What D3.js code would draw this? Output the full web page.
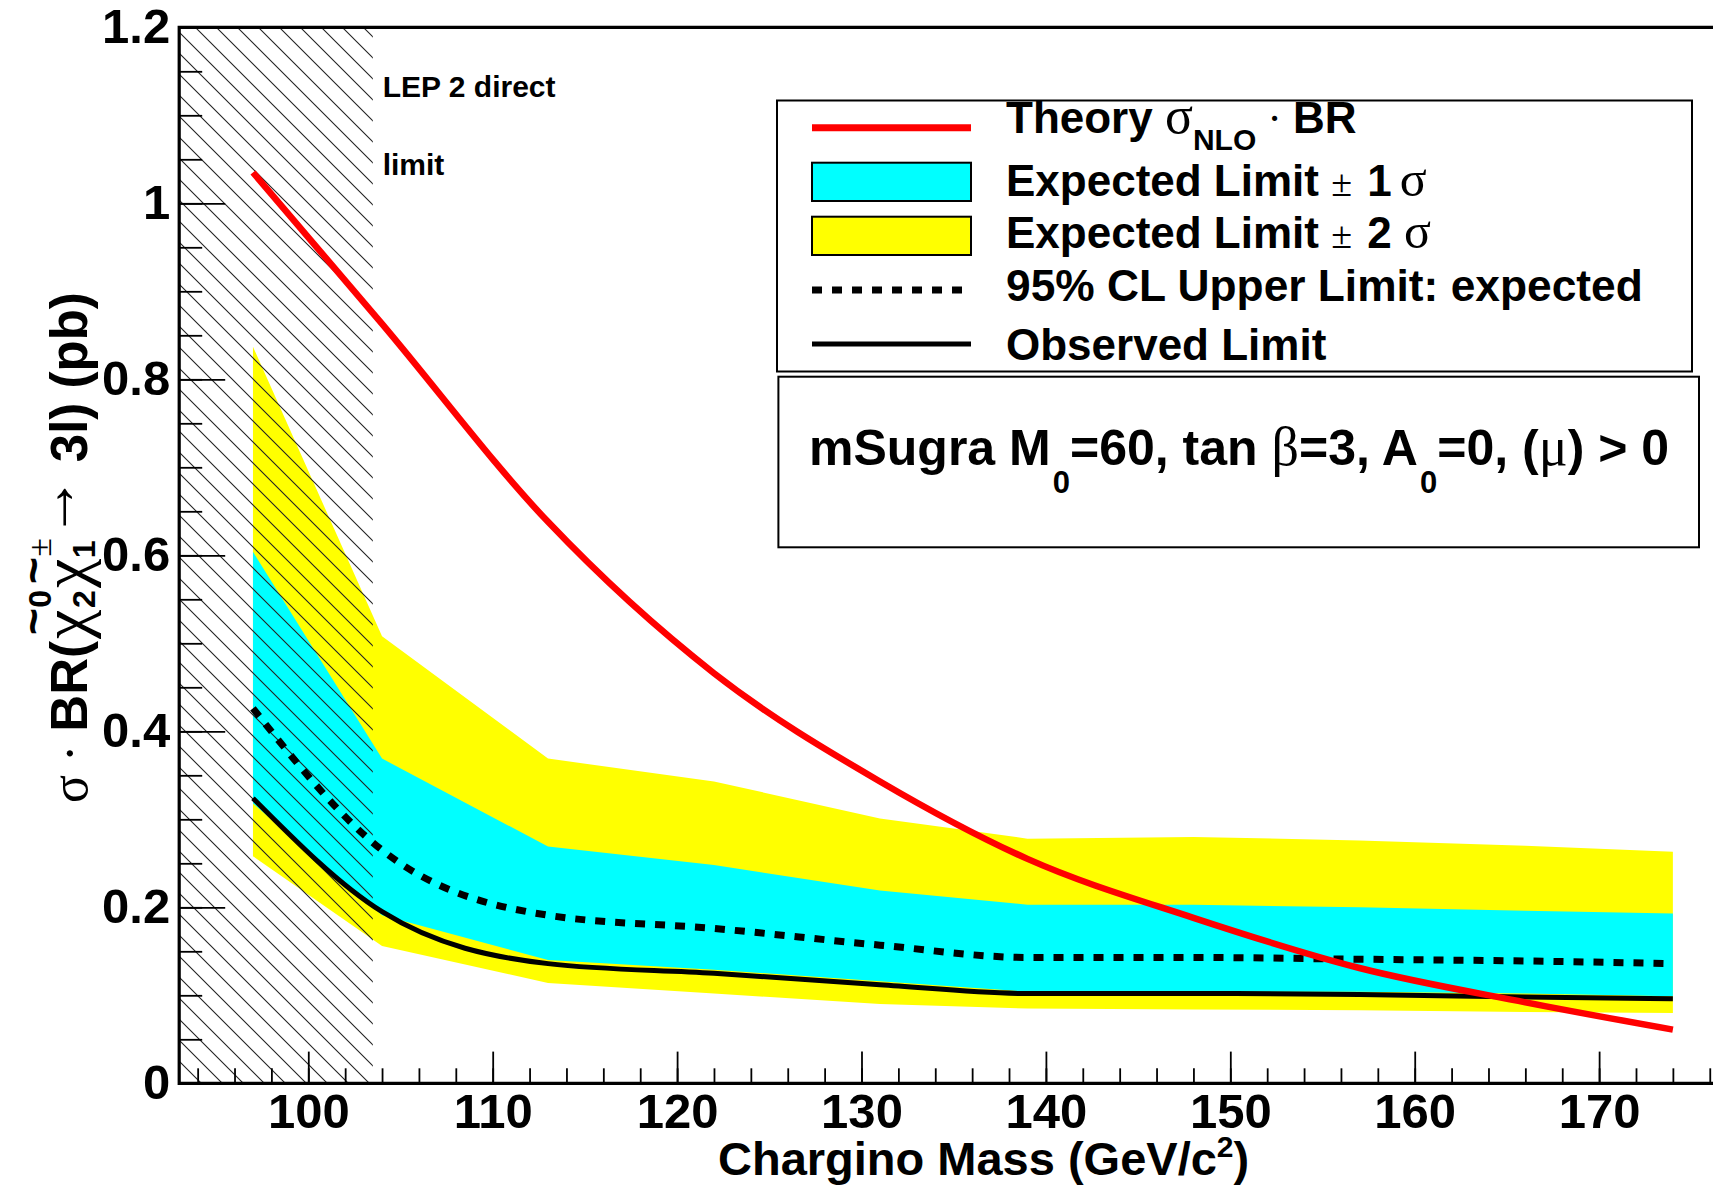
<!DOCTYPE html>
<html>
<head>
<meta charset="utf-8">
<script src="https://cdn.jsdelivr.net/npm/d3@7"></script>
<style>
  body { margin: 0; background: #fff; }
  svg { display: block; }
</style>
</head>
<body>
<div id="chart"></div>
<script>
// Valores (límites al 95% CL, mSugra)
const masses       = [97, 104, 113, 122, 131, 139, 148, 157, 166, 174];
const theory       = [1.035, 0.863, 0.638, 0.466, 0.343, 0.255, 0.188, 0.131, 0.092, 0.061];
const expected     = [0.426, 0.265, 0.191, 0.176, 0.157, 0.143, 0.143, 0.141, 0.139, 0.136];
const observed     = [0.324, 0.195, 0.136, 0.125, 0.112, 0.102, 0.102, 0.101, 0.098, 0.096];
const oneSigmaLow  = [0.318, 0.191, 0.140, 0.129, 0.116, 0.104, 0.104, 0.104, 0.102, 0.099];
const oneSigmaHigh = [0.604, 0.369, 0.269, 0.248, 0.219, 0.203, 0.203, 0.200, 0.196, 0.193];
const twoSigmaLow  = [0.258, 0.156, 0.114, 0.102, 0.090, 0.085, 0.084, 0.083, 0.081, 0.080];
const twoSigmaHigh = [0.837, 0.508, 0.369, 0.343, 0.301, 0.278, 0.280, 0.276, 0.270, 0.263];
const lepLimit = 103.5;
const xTickValues = [100, 110, 120, 130, 140, 150, 160, 170];
const yTickValues = [0, 0.2, 0.4, 0.6, 0.8, 1, 1.2];

const width = 1713, height = 1186;
const sans = "'Liberation Sans', Arial, Helvetica, sans-serif";
const serif = "'Liberation Serif', 'DejaVu Serif', serif";

const svg = d3.select('#chart').append('svg')
  .attr('width', width)
  .attr('height', height);

// Escalas (el marco se sale por la derecha, como en la figura)
const x = d3.scaleLinear().domain([93, 177]).range([179.2, 1728.2]);
const y = d3.scaleLinear().domain([0, 1.2]).range([1083.3, 27.3]);

const rows = masses.map((m, i) => ({
  m, th: theory[i], exp: expected[i], obs: observed[i],
  lo1: oneSigmaLow[i], hi1: oneSigmaHigh[i], lo2: twoSigmaLow[i], hi2: twoSigmaHigh[i]
}));

// Patrón rayado para la región excluida por LEP
const defs = svg.append('defs');
const pat = defs.append('pattern')
  .attr('id', 'hatch')
  .attr('patternUnits', 'userSpaceOnUse')
  .attr('width', 21).attr('height', 21);
pat.append('path')
  .attr('d', 'M0,0 L21,21 M-2,19 L2,23 M19,-2 L23,2')
  .attr('stroke', '#222')
  .attr('stroke-width', 1.1);

// Bandas ±2σ y ±1σ
const band = (lo, hi) => d3.area()
  .x(d => x(d.m))
  .y0(d => y(d[lo]))
  .y1(d => y(d[hi]));

svg.append('path').datum(rows)
  .attr('fill', '#ffff00')
  .attr('d', band('lo2', 'hi2'));
svg.append('path').datum(rows)
  .attr('fill', '#00ffff')
  .attr('d', band('lo1', 'hi1'));

// Región rayada
svg.append('rect')
  .attr('x', x(93))
  .attr('y', y(1.2))
  .attr('width', x(lepLimit) - x(93))
  .attr('height', y(0) - y(1.2))
  .attr('fill', 'url(#hatch)');

svg.append('text')
  .attr('x', 382.7).attr('y', 96.7)
  .attr('font-family', sans).attr('font-weight', 'bold').attr('font-size', 30)
  .text('LEP 2 direct');
svg.append('text')
  .attr('x', 382.7).attr('y', 175)
  .attr('font-family', sans).attr('font-weight', 'bold').attr('font-size', 30)
  .text('limit');

// Curvas
const curve = key => d3.line()
  .x(d => x(d.m))
  .y(d => y(d[key]))
  .curve(d3.curveMonotoneX);

svg.append('path').datum(rows)
  .attr('fill', 'none').attr('stroke', '#000')
  .attr('stroke-width', 7).attr('stroke-dasharray', '10 10')
  .attr('d', curve('exp'));
svg.append('path').datum(rows)
  .attr('fill', 'none').attr('stroke', '#000')
  .attr('stroke-width', 5)
  .attr('d', curve('obs'));
svg.append('path').datum(rows)
  .attr('fill', 'none').attr('stroke', '#ff0000')
  .attr('stroke-width', 6.5)
  .attr('d', curve('th'));

// Ejes
const yMajor = svg.append('g')
  .attr('transform', `translate(${x(93)},0)`)
  .call(d3.axisLeft(y).tickValues(yTickValues).tickSize(-46).tickPadding(9)
    .tickFormat(d => d === 0 ? '0' : d3.format('~g')(d)));
const yMinor = svg.append('g')
  .attr('transform', `translate(${x(93)},0)`)
  .call(d3.axisLeft(y).tickValues(d3.range(0, 1.2001, 0.05)).tickSize(-23).tickFormat(''));
const xMajor = svg.append('g')
  .attr('transform', `translate(0,${y(0)})`)
  .call(d3.axisBottom(x).tickValues(xTickValues).tickSize(-31.7).tickPadding(10));
const xMinor = svg.append('g')
  .attr('transform', `translate(0,${y(0)})`)
  .call(d3.axisBottom(x).tickValues(d3.range(94, 177, 2)).tickSize(-15).tickFormat(''));

[yMajor, yMinor, xMajor, xMinor].forEach(g => {
  g.select('.domain').remove();
  g.selectAll('.tick line').attr('stroke', '#000').attr('stroke-width', 1.8);
  g.selectAll('.tick text')
    .attr('font-family', sans).attr('font-weight', 'bold').attr('font-size', 49)
    .attr('fill', '#000');
});

// Marco: eje izquierdo, inferior y superior
svg.append('path')
  .attr('d', `M${x(177)},${y(1.2)} H${x(93)} V${y(0)} H${x(177)}`)
  .attr('fill', 'none').attr('stroke', '#000').attr('stroke-width', 3.2);

// Texto compuesto por trozos medidos
function richText(g, x0, y0, parts) {
  let cx = x0;
  parts.forEach(p => {
    const t = g.append('text')
      .attr('x', cx + (p.dx || 0))
      .attr('y', y0 + (p.dy || 0))
      .attr('font-family', p.serif ? serif : sans)
      .attr('font-weight', p.serif ? 'normal' : 'bold')
      .attr('font-size', p.size)
      .text(p.text);
    if (!p.overlay) cx += t.node().getComputedTextLength() + (p.dx || 0);
  });
  return cx;
}

// Títulos de ejes
richText(svg, 718, 1175, [
  { text: 'Chargino Mass (GeV/c', size: 47 },
  { text: '2', size: 30, dy: -18 },
  { text: ')', size: 47 }
]);

const yl = svg.append('g').attr('transform', 'translate(87,803) rotate(-90)');
richText(yl, 0, 0, [
  { text: 'σ', size: 52, serif: true },
  { text: '\u00A0·\u00A0', size: 52, serif: true },
  { text: 'BR(', size: 51 },
  { text: '~', size: 46, dy: -38, dx: 6, overlay: true },
  { text: 'χ', size: 66, serif: true, dx: 2 },
  { text: '0', size: 32, dy: -36, dx: 2 },
  { text: '2', size: 32, dx: -18, dy: 8 },
  { text: '~', size: 46, dy: -38, dx: 6, overlay: true },
  { text: 'χ', size: 66, serif: true, dx: 2 },
  { text: '±', size: 34, dy: -36, serif: true, dx: 2 },
  { text: '1', size: 32, dx: -20, dy: 8 },
  { text: '→', size: 62, serif: true, dx: 2, dy: -12 },
  { text: '\u00A03l)\u00A0(pb)', size: 51 }
]);

// Leyenda
const leg = svg.append('g');
leg.append('rect')
  .attr('x', 777).attr('y', 100.5).attr('width', 915).attr('height', 271)
  .attr('fill', '#fff').attr('stroke', '#000').attr('stroke-width', 2);

leg.append('line')
  .attr('x1', 812).attr('x2', 971).attr('y1', 127.7).attr('y2', 127.7)
  .attr('stroke', '#ff0000').attr('stroke-width', 7);
leg.append('rect')
  .attr('x', 812).attr('y', 162.7).attr('width', 159).attr('height', 38.3)
  .attr('fill', '#00ffff').attr('stroke', '#000').attr('stroke-width', 2);
leg.append('rect')
  .attr('x', 812).attr('y', 216.7).attr('width', 159).attr('height', 38.3)
  .attr('fill', '#ffff00').attr('stroke', '#000').attr('stroke-width', 2);
leg.append('line')
  .attr('x1', 812).attr('x2', 971).attr('y1', 290).attr('y2', 290)
  .attr('stroke', '#000').attr('stroke-width', 7).attr('stroke-dasharray', '10 10');
leg.append('line')
  .attr('x1', 812).attr('x2', 971).attr('y1', 344).attr('y2', 344)
  .attr('stroke', '#000').attr('stroke-width', 5);

richText(leg, 1006, 133.3, [
  { text: 'Theory\u00A0', size: 44 },
  { text: 'σ', size: 52, serif: true },
  { text: 'NLO', size: 30, dy: 17 },
  { text: '\u00A0·\u00A0', size: 44, serif: true },
  { text: 'BR', size: 44 }
]);
richText(leg, 1006, 196, [
  { text: 'Expected Limit\u00A0', size: 44 },
  { text: '±', size: 38, serif: true },
  { text: '\u00A01', size: 44, dx: 3 },
  { text: 'σ', size: 50, serif: true, dx: 8 }
]);
richText(leg, 1006, 248, [
  { text: 'Expected Limit\u00A0', size: 44 },
  { text: '±', size: 38, serif: true },
  { text: '\u00A02\u00A0', size: 44, dx: 3 },
  { text: 'σ', size: 50, serif: true }
]);
richText(leg, 1006, 300.7, [{ text: '95% CL Upper Limit: expected', size: 44.3 }]);
richText(leg, 1006, 360, [{ text: 'Observed Limit', size: 44 }]);

// Caja con los parámetros del modelo
leg.append('rect')
  .attr('x', 778.4).attr('y', 376.7).attr('width', 920.6).attr('height', 170.6)
  .attr('fill', '#fff').attr('stroke', '#000').attr('stroke-width', 2);
richText(leg, 809, 465, [
  { text: 'mSugra M', size: 50 },
  { text: '0', size: 31, dy: 28, dx: 2 },
  { text: '=60, tan\u00A0', size: 50 },
  { text: 'β', size: 54, serif: true },
  { text: '=3, A', size: 50 },
  { text: '0', size: 31, dy: 28, dx: 2 },
  { text: '=0, (', size: 50 },
  { text: 'μ', size: 54, serif: true },
  { text: ') > 0', size: 50 }
]);
</script>
</body>
</html>
